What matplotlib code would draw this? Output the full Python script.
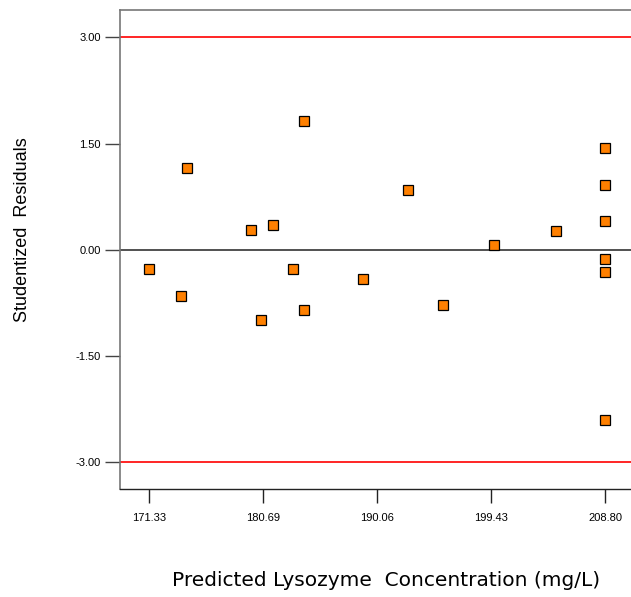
import numpy as np
import matplotlib.pyplot as plt

plt.rcParams['font.family'] = ['Liberation Sans', 'DejaVu Sans']

# predicted values and studentized residuals
predicted = [171.33, 173.93, 174.43, 179.69, 180.51, 181.49, 183.13, 184.04, 184.04,
             188.89, 192.59, 195.46, 199.65, 204.74,
             208.80, 208.80, 208.80, 208.80, 208.80, 208.80]
residuals = [-0.28, -0.65, 1.15, 0.28, -1.00, 0.35, -0.27, 1.82, -0.85,
             -0.42, 0.85, -0.78, 0.07, 0.27,
             1.44, 0.92, 0.40, -0.13, -0.31, -2.40]

xticks = [171.33, 180.69, 190.06, 199.43, 208.80]
yticks = [-3.00, -1.50, 0.00, 1.50, 3.00]

fig = plt.figure(figsize=(6.31, 5.97), dpi=100)
ax = fig.add_axes([0.1902, 0.1804, 0.8098, 0.8028])

ax.axhline(3.0, color='red', lw=1.2, zorder=1)
ax.axhline(-3.0, color='red', lw=1.2, zorder=1)
ax.axhline(0.0, color='#333333', lw=1.2, zorder=1)

ax.plot(predicted, residuals, 's', ms=6.5, mfc='#FF8000', mec='black', mew=0.9,
        ls='none', zorder=3)

ax.set_xlim(168.92, 210.91)
ax.set_ylim(-3.386, 3.386)
ax.set_xticks(xticks)
ax.set_xticklabels(['%.2f' % v for v in xticks])
ax.set_yticks(yticks)
ax.set_yticklabels(['%.2f' % v for v in yticks])

ax.spines['right'].set_visible(False)
for s in ['left', 'top']:
    ax.spines[s].set_color('#777777')
    ax.spines[s].set_linewidth(1.2)
ax.spines['bottom'].set_color('#222222')
ax.spines['bottom'].set_linewidth(1.0)

ax.tick_params(axis='x', direction='out', length=10, width=1, pad=7,
               labelsize=8, color='#222222')
ax.tick_params(axis='y', direction='out', length=11, width=1, pad=3,
               labelsize=8, color='#444444')

fig.text(0.035, 0.615, 'Studentized  Residuals', rotation=90, ha='center',
         va='center', fontsize=13)
fig.text(0.612, 0.027, 'Predicted Lysozyme  Concentration (mg/L)', ha='center',
         va='center', fontsize=14.5, family='DejaVu Sans')

fig.savefig('out.png', dpi=100)
